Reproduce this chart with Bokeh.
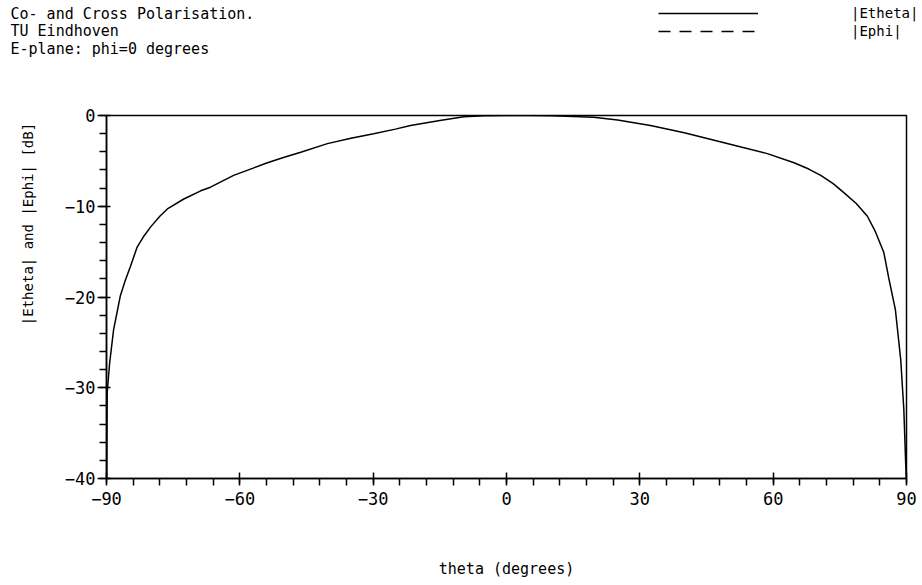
from bokeh.plotting import figure
from bokeh.models import Label, Legend, LegendItem, FixedTicker, Range1d
from bokeh.layouts import column, row
from bokeh.embed import file_html
from bokeh.resources import INLINE

FONT = "DejaVu Sans Mono"

title_lines = ["Co- and Cross Polarisation.", "TU Eindhoven", "E-plane: phi=0 degrees"]
legend_labels = ["|Etheta|", "|Ephi|"]
x_label = "theta (degrees)"
y_label = "|Etheta| and |Ephi| [dB]"
x_ticks = [-90, -60, -30, 0, 30, 60, 90]
y_ticks = [-40, -30, -20, -10, 0]

# |Etheta| (co-polar)
etheta_theta = [-89.95, -89.85, -89.3, -88.4, -86.9, -85.8, -84.6, -83.1, -81.6, -80.1,
                -78.0, -76.3, -72.6, -68.8, -66.6, -61.4, -57.0, -53.8, -50.0, -46.3,
                -40.3, -35.0, -29.9, -25.0, -21.6, -15.0, -9.6, -5.0, 0.0, 5.0,
                10.0, 13.5, 19.6, 25.0, 32.4, 40.0, 47.4, 53.0, 58.7, 64.7,
                68.0, 70.7, 73.5, 75.9, 78.7, 81.2, 83.0, 84.9, 86.0, 87.5,
                88.7, 89.4, 89.8, 89.95]
etheta_db = [-40.0, -30.6, -27.3, -23.6, -19.9, -18.2, -16.6, -14.5, -13.3, -12.3,
             -11.1, -10.3, -9.2, -8.3, -7.9, -6.6, -5.8, -5.2, -4.6, -4.05,
             -3.1, -2.5, -2.0, -1.5, -1.1, -0.55, -0.15, -0.04, 0.0, 0.0,
             -0.02, -0.07, -0.2, -0.5, -1.1, -1.9, -2.8, -3.5, -4.2, -5.2,
             -5.9, -6.6, -7.5, -8.5, -9.7, -11.1, -12.8, -15.1, -17.9, -21.4,
             -26.9, -32.4, -38.1, -40.0]

# |Ephi| (cross-polar): no trace visible inside the plotted range
ephi_theta = [float("nan")]
ephi_db = [float("nan")]

W, HEAD_H, LEFT_W = 922, 100, 50
MAIN_H = 585 - HEAD_H

# ---------- header: title lines + legend ----------
head = figure(width=W, height=HEAD_H, output_backend="svg", toolbar_location=None,
              x_range=Range1d(0, W), y_range=Range1d(HEAD_H, 0),
              x_axis_location=None, y_axis_location=None,
              min_border=0, min_border_left=0, min_border_right=0,
              min_border_top=0, min_border_bottom=0)
head.outline_line_color = None
head.grid.visible = False
head.background_fill_color = "white"
head.border_fill_color = "white"

for i, t in enumerate(title_lines):
    head.add_layout(Label(x=10, y=13 + 17.5 * i, text=t,
                          text_font=FONT, text_font_size="15px", text_color="black",
                          text_baseline="middle", text_align="left"))

# legend samples (nothing drawn in the header itself)
s1 = head.line([float("nan")], [float("nan")], line_color="black", line_width=1.5)
s2 = head.line([float("nan")], [float("nan")], line_color="black", line_width=1.5,
               line_dash="12 9")
legend = Legend(items=[LegendItem(label=legend_labels[0], renderers=[s1]),
                       LegendItem(label=legend_labels[1], renderers=[s2])],
                location=(658, HEAD_H - 4 - 36), orientation="vertical",
                glyph_width=100, glyph_height=18, label_height=18, label_standoff=93,
                spacing=0, padding=0, margin=0,
                label_text_font=FONT, label_text_font_size="14px", label_text_color="black",
                background_fill_alpha=0, border_line_alpha=0)
head.add_layout(legend)

# ---------- left strip: y-axis title ----------
left = figure(width=LEFT_W, height=MAIN_H, output_backend="svg", toolbar_location=None,
              x_range=Range1d(0, LEFT_W), y_range=Range1d(MAIN_H, 0),
              x_axis_location=None, y_axis_location=None,
              min_border=0, min_border_left=0, min_border_right=0,
              min_border_top=0, min_border_bottom=0)
left.outline_line_color = None
left.grid.visible = False
left.background_fill_color = "white"
left.border_fill_color = "white"
left.add_layout(Label(x=27, y=145, text=y_label, angle=90, angle_units="deg",
                      text_font=FONT, text_font_size="14px", text_color="black",
                      text_baseline="middle", text_align="center"))

# ---------- main plot ----------
p = figure(width=W - LEFT_W, height=MAIN_H, output_backend="svg", toolbar_location=None,
           x_range=Range1d(-90, 90), y_range=Range1d(-40, 0),
           min_border_left=106 - LEFT_W, min_border_right=16,
           min_border_top=15, min_border_bottom=107)
p.background_fill_color = "white"
p.border_fill_color = "white"
p.outline_line_color = "black"
p.outline_line_width = 1.5
p.grid.visible = False

p.line(etheta_theta, etheta_db, line_color="black", line_width=1.5)
p.line(ephi_theta, ephi_db, line_color="black", line_width=1.5, line_dash="12 9")

xa = p.xaxis[0]
xa.ticker = FixedTicker(ticks=x_ticks, minor_ticks=list(range(-90, 91, 6)))
xa.axis_label = x_label
ya = p.yaxis[0]
ya.ticker = FixedTicker(ticks=y_ticks, minor_ticks=list(range(-40, 1, 2)))

for ax in (xa, ya):
    ax.axis_line_color = "black"
    ax.axis_line_width = 1.5
    ax.major_tick_line_color = "black"
    ax.minor_tick_line_color = "black"
    ax.major_tick_line_width = 1.5
    ax.minor_tick_line_width = 1.5
    ax.major_label_text_font = FONT
    ax.major_label_text_font_size = "17px"
    ax.major_label_text_color = "black"
    ax.axis_label_text_font = FONT
    ax.axis_label_text_font_size = "15px"
    ax.axis_label_text_font_style = "normal"
    ax.axis_label_text_color = "black"

xa.major_tick_in = 6
xa.major_tick_out = 5
xa.minor_tick_in = 0
xa.minor_tick_out = 7
xa.major_label_standoff = 6
xa.axis_label_standoff = 52

ya.major_tick_in = 4
ya.major_tick_out = 9
ya.minor_tick_in = 0
ya.minor_tick_out = 7
ya.major_label_standoff = 2

layout = column(head, row(left, p, spacing=0), spacing=0)
open("out.html", "w").write(file_html(layout, INLINE))
